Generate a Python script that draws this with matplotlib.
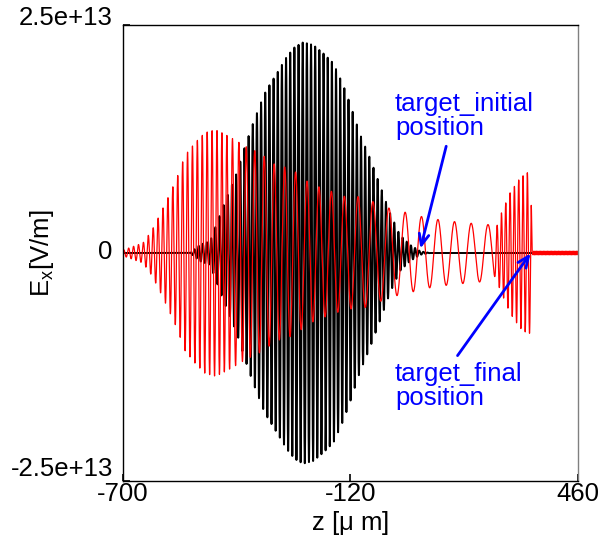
import numpy as np
import matplotlib.pyplot as plt
import matplotlib.transforms as mtransforms

plt.rcParams['font.family'] = ['Liberation Sans', 'DejaVu Sans']

# envelope of the incident pulse (black): z [um], amplitude [1e13 V/m]
black_z = [-700, -528, -503, -477, -443, -409, -388, -367, -341, -333, -307, -282,
           -261, -240, -214, -189, -163, -138, -121, -95, -70, -45, -19, 6, 32, 58, 83, 343]
black_amp = [0, 0, 0.09, 0.13, 0.52, 0.88, 1.17, 1.43, 1.72, 1.79, 1.97, 2.15,
             2.26, 2.31, 2.28, 2.19, 2.08, 1.84, 1.64, 1.3, 1.04, 0.75, 0.44, 0.2, 0.09, 0.02, 0, 0]
black_lambda = 10.6
black_end = 343

# envelope of the final field (red)
red_z = [-700, -648, -625, -605, -584, -561, -541, -515, -490, -464, -452, -426, -414,
         -383, -357, -332, -309, -284, -256, -228, -197, -164, -128, -95, -14, 27, 70,
         114, 154, 202, 236, 250, 261, 287, 312, 330, 340, 343, 460]
red_amp = [0.03, 0.11, 0.25, 0.42, 0.61, 0.83, 1.07, 1.21, 1.32, 1.35, 1.33, 1.27, 1.24,
           1.16, 1.11, 1.04, 0.96, 0.94, 0.88, 0.78, 0.72, 0.67, 0.61, 0.62, 0.48, 0.44, 0.39,
           0.36, 0.34, 0.32, 0.31, 0.25, 0.4, 0.66, 0.82, 0.88, 0.88, 0.02, 0.02]
# local wavelength of the red field [um]
red_lz = [-700, -440, -400, -357, -248, -128, -45, 240, 250, 343, 345, 460]
red_lambda = [12.5, 12.5, 18, 24, 29, 34, 41, 43, 11, 11, 3.5, 3.5]

z = np.arange(-700, 460.01, 0.05)
dz = z[1] - z[0]

zb = z[z <= black_end]
Eb = np.interp(zb, black_z, black_amp) * np.sin(2 * np.pi * zb / black_lambda) * 1e13

lam = np.interp(z, red_lz, red_lambda)
phase = 2 * np.pi * np.cumsum(dz / lam)
Er = np.interp(z, red_z, red_amp) * np.sin(phase) * 1e13

fig = plt.figure(figsize=(6, 5.41), dpi=100)
ax = fig.add_axes([0.2042, 0.1109, 0.7592, 0.8429])

ax.plot(zb, Eb, color='black', lw=1.4)
ax.plot(z, Er, color='red', lw=0.9)

ax.set_xlim(-700, 460)
ax.set_ylim(-2.5e13, 2.5e13)
ax.set_xticks([-700, -120, 460])
ax.set_xticklabels(['-700', '-120', '460'])
ax.set_yticks([-2.5e13, 0, 2.5e13])
ax.set_yticklabels(['-2.5e+13', '0', '2.5e+13'])
ax.tick_params(direction='in', length=5, width=1.2, labelsize=18.5, pad=7,
               top=False, right=False)
ax.tick_params(axis='x', pad=1)

# y labels sit a little above their ticks
for lab, dy in zip(ax.get_yticklabels(), [10.8, 2.2, 6.5]):
    lab.set_transform(lab.get_transform() +
                      mtransforms.ScaledTranslation(0, dy / 72, fig.dpi_scale_trans))

for side in ['left', 'bottom', 'top']:
    ax.spines[side].set_color('black')
    ax.spines[side].set_linewidth(1.0)
ax.spines['right'].set_color('#808080')
ax.spines['right'].set_linewidth(1.0)

ax.set_xlabel('z [$\\mathregular{\\mu}$ m]', fontsize=18.5, labelpad=2)
ax.set_ylabel('E$_\\mathregular{x}$[V/m]', fontsize=18.5)
ax.yaxis.set_label_coords(-0.145, 0.5)

blue = '#0000ff'
ax.text(-6, 1.77e13, 'target_initial\nposition', color=blue, fontsize=18.5,
        ha='left', va='top', linespacing=1.0)
ax.annotate('', xy=(57, 0.02e13), xytext=(126, 1.2e13),
            arrowprops=dict(arrowstyle='->,head_length=0.8,head_width=0.35',
                            color=blue, lw=2))
ax.text(-6, -1.19e13, 'target_final\nposition', color=blue, fontsize=18.5,
        ha='left', va='top', linespacing=1.0)
ax.annotate('', xy=(343, 0.02e13), xytext=(149, -1.15e13),
            arrowprops=dict(arrowstyle='->,head_length=0.8,head_width=0.35',
                            color=blue, lw=2))

fig.savefig('out.png', dpi=100)
